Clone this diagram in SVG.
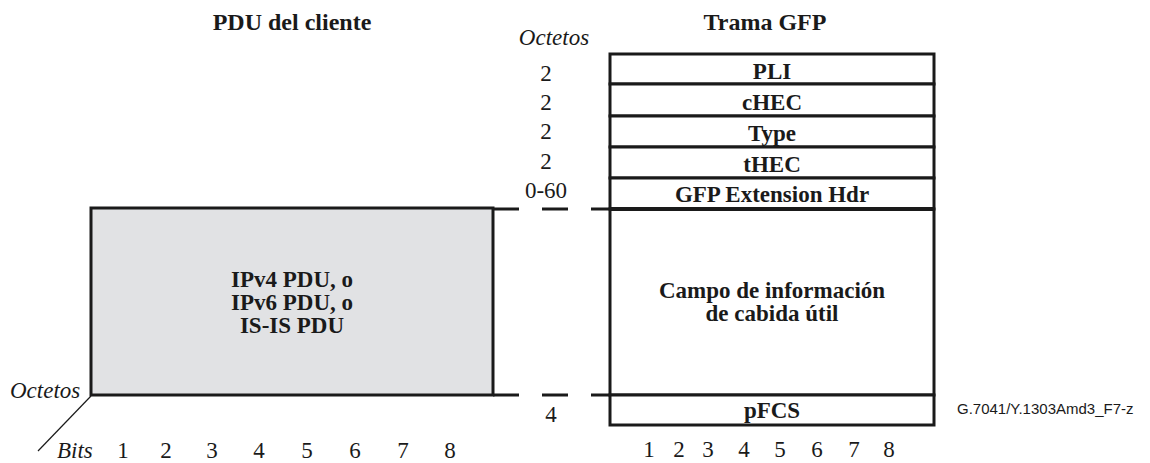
<svg xmlns="http://www.w3.org/2000/svg" width="1150" height="463" viewBox="0 0 1150 463">
<style>
  .t { font-family: "Liberation Serif", "Times New Roman", Times, "DejaVu Serif", serif; font-size: 23px; fill: #1a1a1a; }
  .title { font-size: 24px; }
  .b { font-weight: bold; text-anchor: middle; }
  .n { text-anchor: middle; }
  .i { font-style: italic; }
  .box { fill: #ffffff; stroke: #1a1a1a; stroke-width: 3; }
  .pdu { fill: #e1e2e4; stroke: #1a1a1a; stroke-width: 3; }
  .dash { stroke: #1a1a1a; stroke-width: 3; stroke-dasharray: 26 23; fill: none; }
  .thin { stroke: #1a1a1a; stroke-width: 1.2; fill: none; }
  .ref { font-family: "Liberation Sans", Arial, sans-serif; font-size: 15px; fill: #1a1a1a; }
</style>
<rect width="1150" height="463" fill="#ffffff"/>

<g id="titles">
  <text class="t b title" x="292" y="30">PDU del cliente</text>
  <text class="t b title" x="765" y="30">Trama GFP</text>
</g>

<g id="client-pdu">
  <rect class="pdu" x="91" y="208" width="402" height="187"/>
  <text class="t b" x="292" y="287">IPv4 PDU, o</text>
  <text class="t b" x="292" y="310">IPv6 PDU, o</text>
  <text class="t b" x="292" y="333">IS-IS PDU</text>
</g>

<g id="gfp-frame">
  <g id="pli"><rect class="box" x="610" y="54" width="324" height="30"/><text class="t b" x="772" y="79">PLI</text></g>
  <g id="chec"><rect class="box" x="610" y="84" width="324" height="32"/><text class="t b" x="772" y="110">cHEC</text></g>
  <g id="type"><rect class="box" x="610" y="116" width="324" height="31"/><text class="t b" x="772" y="141">Type</text></g>
  <g id="thec"><rect class="box" x="610" y="147" width="324" height="31"/><text class="t b" x="772" y="172">tHEC</text></g>
  <g id="ext-hdr"><rect class="box" x="610" y="178" width="324" height="31"/><text class="t b" x="772" y="202">GFP Extension Hdr</text></g>
  <g id="payload"><rect class="box" x="610" y="209" width="324" height="186"/><text class="t b" x="772" y="298">Campo de información</text><text class="t b" x="772" y="321">de cabida útil</text></g>
  <g id="pfcs"><rect class="box" x="610" y="395" width="324" height="30"/><text class="t b" x="772" y="418">pFCS</text></g>
  <line x1="610" y1="209" x2="934" y2="209" stroke="#1a1a1a" stroke-width="4"/>
</g>

<g id="connectors">
  <line class="dash" x1="493" y1="209" x2="610" y2="209"/>
  <line class="dash" x1="493" y1="395" x2="610" y2="395"/>
  <line class="thin" x1="91" y1="396" x2="38" y2="451"/>
</g>

<g id="octet-labels">
  <text class="t i n" x="554" y="45">Octetos</text>
  <text class="t n" x="546" y="81">2</text>
  <text class="t n" x="546" y="110">2</text>
  <text class="t n" x="546" y="139">2</text>
  <text class="t n" x="546" y="169">2</text>
  <text class="t n" x="546" y="198">0-60</text>
  <text class="t n" x="551" y="422">4</text>
  <text class="t i" x="10" y="398">Octetos</text>
  <text class="t i" x="57" y="458">Bits</text>
</g>

<g id="bits-left">
  <text class="t n" x="123" y="458">1</text>
  <text class="t n" x="166" y="458">2</text>
  <text class="t n" x="212" y="458">3</text>
  <text class="t n" x="259" y="458">4</text>
  <text class="t n" x="307" y="458">5</text>
  <text class="t n" x="355" y="458">6</text>
  <text class="t n" x="403" y="458">7</text>
  <text class="t n" x="450" y="458">8</text>
</g>

<g id="bits-right">
  <text class="t n" x="649" y="457">1</text>
  <text class="t n" x="679" y="457">2</text>
  <text class="t n" x="708" y="457">3</text>
  <text class="t n" x="744" y="457">4</text>
  <text class="t n" x="780" y="457">5</text>
  <text class="t n" x="817" y="457">6</text>
  <text class="t n" x="854" y="457">7</text>
  <text class="t n" x="889" y="457">8</text>
</g>

<text class="ref" x="957" y="414">G.7041/Y.1303Amd3_F7-z</text>
</svg>
